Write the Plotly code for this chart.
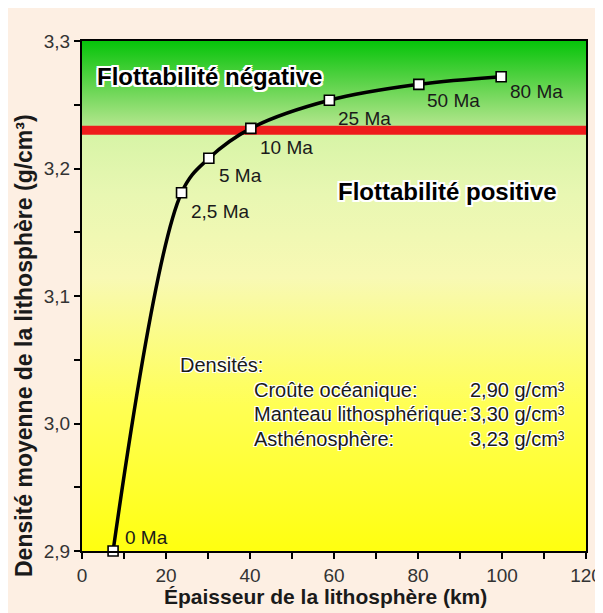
import plotly.graph_objects as go

# ---- data ----
ages = ["0 Ma", "2,5 Ma", "5 Ma", "10 Ma", "25 Ma", "50 Ma", "80 Ma"]
thickness_km = [7.4, 23.7, 30.2, 40.2, 58.9, 80.2, 99.8]
density = [2.900, 3.181, 3.208, 3.2315, 3.2535, 3.266, 3.272]
asthenosphere_density = 3.23
x_range = [0, 120]
y_range = [2.9, 3.3]
density_rows = ["Croûte océanique:", "Manteau lithosphérique:", "Asthénosphère:"]
density_values = ["2,90 g/cm³", "3,30 g/cm³", "3,23 g/cm³"]
x_title = "Épaisseur de la lithosphère (km)"
y_title = "Densité moyenne de la lithosphère (g/cm³)"

# ---- styles / positions ----
label_xshift = [10, 7, 8, 7, 7, 6, 7]
label_yshift = [14, -19, -17, -19, -18, -16, -15]
FONT = "Liberation Sans, Arial, sans-serif"
halo1 = "-1px -1px 0 #fff, 1px -1px 0 #fff, -1px 1px 0 #fff, 1px 1px 0 #fff"
halo2 = ("-2px -2px 0 #fff, 2px -2px 0 #fff, -2px 2px 0 #fff, 2px 2px 0 #fff, "
         "0 2px 0 #fff, 0 -2px 0 #fff, 2px 0 0 #fff, -2px 0 0 #fff")
TXT = "#1a1a1a"

fig = go.Figure()

# background gradient: positive buoyancy (below asthenosphere density)
fig.add_trace(go.Scatter(
    x=[x_range[0], x_range[1], x_range[1], x_range[0], x_range[0]],
    y=[y_range[0], y_range[0], asthenosphere_density, asthenosphere_density, y_range[0]],
    fill="toself", mode="lines", line=dict(width=0), hoverinfo="skip", showlegend=False,
    fillgradient=dict(type="vertical", start=y_range[0], stop=asthenosphere_density,
                      colorscale=[[0, "#FFFF10"], [0.35, "#FFFF55"], [0.65, "#F8F9B4"],
                                  [0.85, "#E8F7B2"], [1, "#D6F4A6"]]),
))
# negative buoyancy
fig.add_trace(go.Scatter(
    x=[x_range[0], x_range[1], x_range[1], x_range[0], x_range[0]],
    y=[asthenosphere_density, asthenosphere_density, y_range[1], y_range[1], asthenosphere_density],
    fill="toself", mode="lines", line=dict(width=0), hoverinfo="skip", showlegend=False,
    fillgradient=dict(type="vertical", start=asthenosphere_density, stop=y_range[1],
                      colorscale=[[0, "#BCE894"], [0.5, "#62D44E"], [1, "#06C40A"]]),
))
# asthenosphere line
fig.add_trace(go.Scatter(
    x=x_range, y=[asthenosphere_density] * 2, mode="lines",
    line=dict(color="#EE1C1C", width=9), hoverinfo="skip", showlegend=False,
))
# curve
fig.add_trace(go.Scatter(
    x=thickness_km, y=density, mode="lines+markers",
    line=dict(color="black", width=3.5, shape="spline", smoothing=1.0),
    marker=dict(symbol="square", size=10, color="white", line=dict(color="black", width=1.6)),
    showlegend=False, cliponaxis=False,
))

annotations = []
for xv, yv, lab, dx, dy in zip(thickness_km, density, ages, label_xshift, label_yshift):
    annotations.append(dict(x=xv, y=yv, text=lab, showarrow=False, xanchor="left", yanchor="middle",
                            xshift=dx, yshift=dy, font=dict(family=FONT, size=19, color=TXT)))

annotations.append(dict(x=3.0, y=3.2718, text="<b>Flottabilité négative</b>", showarrow=False,
                        xanchor="left", yanchor="middle",
                        font=dict(family=FONT, size=24, color="black", shadow=halo2)))
annotations.append(dict(x=60.5, y=3.1816, text="<b>Flottabilité positive</b>", showarrow=False,
                        xanchor="left", yanchor="middle",
                        font=dict(family=FONT, size=24, color="black", shadow=halo2)))

# density legend block
annotations.append(dict(x=(178 - 82) / 4.2, y=3.3 - (365 - 41) / 1275, text="Densités:", showarrow=False,
                        xanchor="left", yanchor="middle",
                        font=dict(family=FONT, size=20, color=TXT, shadow=halo1)))
row_y = [390, 414, 439]
for name, val, py in zip(density_rows, density_values, row_y):
    yy = 3.3 - (py - 41) / 1275
    annotations.append(dict(x=(252 - 82) / 4.2, y=yy, text=name, showarrow=False,
                            xanchor="left", yanchor="middle",
                            font=dict(family=FONT, size=20, color=TXT, shadow=halo1)))
    annotations.append(dict(x=(468 - 82) / 4.2, y=yy, text=val, showarrow=False,
                            xanchor="left", yanchor="middle",
                            font=dict(family=FONT, size=20, color=TXT, shadow=halo1)))

# axis titles as annotations (positioned like the reference, not centred on the axes)
annotations.append(dict(xref="paper", yref="paper", x=0.484, y=-0.090, text=f"<b>{x_title}</b>",
                        showarrow=False, xanchor="center", yanchor="middle",
                        font=dict(family=FONT, size=21, color=TXT)))
annotations.append(dict(xref="paper", yref="paper", x=-0.115, y=0.402, text=f"<b>{y_title}</b>",
                        showarrow=False, xanchor="center", yanchor="middle", textangle=-90,
                        font=dict(family=FONT, size=23, color=TXT)))

# the page body adds an 8px offset, so the figure is 8px smaller and margins shifted
fig.update_layout(
    template="none",
    width=595, height=605,
    margin=dict(l=74, r=17, t=33, b=62, autoexpand=False),
    paper_bgcolor="#FDEFE3", plot_bgcolor="#FFFF40",
    separators=",.",
    annotations=annotations,
    font=dict(family=FONT, color="#333333"),
)
fig.update_xaxes(
    automargin=False,
    range=x_range, dtick=20, tick0=0, ticks="outside", ticklen=6, tickwidth=2, tickcolor="black",
    showline=True, linecolor="black", linewidth=2, mirror=True, showgrid=False, zeroline=False,
    tickfont=dict(size=19, color="#333333"),
    minor=dict(dtick=10, ticks="outside", ticklen=6, tickwidth=2, tickcolor="black", showgrid=False),
)
fig.update_yaxes(
    automargin=False,
    range=y_range, dtick=0.1, tick0=2.9, tickformat=".1f", ticks="outside", ticklen=6, tickwidth=2,
    tickcolor="black", showline=True, linecolor="black", linewidth=2, mirror=True, showgrid=False,
    zeroline=False, tickfont=dict(size=19, color="#333333"),
    minor=dict(dtick=0.05, ticks="outside", ticklen=6, tickwidth=2, tickcolor="black", showgrid=False),
)

fig.write_html("out.html")
